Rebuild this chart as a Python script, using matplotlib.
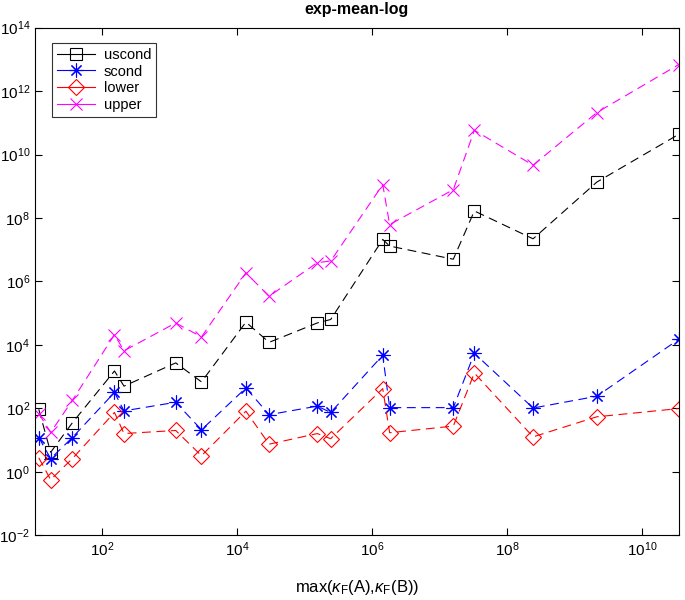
import matplotlib
matplotlib.use('Agg')
import matplotlib.pyplot as plt
from matplotlib.ticker import FixedLocator, NullLocator

plt.rcParams['font.family'] = ['Liberation Sans', 'DejaVu Sans']
plt.rcParams['mathtext.fontset'] = 'custom'
plt.rcParams['mathtext.rm'] = 'Liberation Sans'
plt.rcParams['mathtext.it'] = 'Liberation Sans:italic'

# max condition number on the x axis
kappa = [11.4, 17.1, 35.9, 151, 209, 1.22e3, 2.94e3, 1.34e4, 2.96e4,
         1.53e5, 2.42e5, 1.43e6, 1.81e6, 1.59e7, 3.26e7, 2.42e8, 2.13e9, 3.47e10]

uscond = [93, 4.1, 35, 1.5e3, 500, 2.7e3, 680, 5.2e4, 1.2e4,
          4.9e4, 6.3e4, 2.1e7, 1.3e7, 5.0e6, 1.66e8, 2.2e7, 1.35e9, 4.3e10]
scond = [12, 2.6, 12, 316, 83, 155, 21, 437, 63,
         117, 74, 4.7e3, 105, 105, 5.4e3, 102, 240, 1.48e4]
lower = [2.75, 0.56, 2.6, 74, 16, 20, 3.2, 81, 7.4,
         16, 11, 417, 17, 27.5, 1.29e3, 12.6, 54, 98]
upper = [68, 17.4, 178, 2.1e4, 6.5e3, 4.9e4, 1.78e4, 1.86e6, 3.4e5,
         3.9e6, 4.4e6, 1.12e9, 6.2e7, 7.8e8, 5.8e10, 4.6e9, 2.1e11, 6.8e12]

# matlab-like asterisk: 8 spokes
series = [('uscond', uscond, 'k', 's', 8),
          ('scond', scond, 'b', (8, 2, 0), 10),
          ('lower', lower, 'r', 'D', 8),
          ('upper', upper, '#ff00ff', 'x', 8)]

fig = plt.figure(figsize=(6.85, 6.0), dpi=100)
ax = fig.add_axes([0.051, 0.108, 0.940, 0.846])

for name, vals, col, mk, ms in series:
    ax.plot(kappa, vals, linestyle=(0, (8, 5)), color=col, linewidth=0.8,
            marker=mk, markersize=ms, markerfacecolor='none',
            markeredgecolor=col, markeredgewidth=0.8, label=name)

ax.set_xscale('log')
ax.set_yscale('log')
ax.set_xlim(10, 3.5e10)
ax.set_ylim(1e-2, 1e14)
ax.xaxis.set_major_locator(FixedLocator([1e2, 1e4, 1e6, 1e8, 1e10]))
ax.yaxis.set_major_locator(FixedLocator([10.0 ** k for k in range(-2, 15, 2)]))
ax.xaxis.set_minor_locator(NullLocator())
ax.yaxis.set_minor_locator(NullLocator())
ax.tick_params(direction='in', top=True, right=True, length=5, width=0.8,
               labelsize=11)
for sp in ax.spines.values():
    sp.set_linewidth(0.8)

ax.set_title('exp-mean-log', fontsize=11.5, fontweight='bold', pad=10)
ax.set_xlabel(r'max($\kappa_{\mathrm{F}}$(A),$\kappa_{\mathrm{F}}$(B))',
              fontsize=12, labelpad=14)

leg = ax.legend(loc='upper left', bbox_to_anchor=(0.015, 0.985), fontsize=10.5,
                fancybox=False, edgecolor='#333333', framealpha=1,
                handlelength=2.6, handletextpad=0.6, borderpad=0.35,
                labelspacing=0.2)
leg.get_frame().set_linewidth(0.8)
for h in leg.get_lines():
    h.set_linestyle('-')

fig.savefig('out.png', dpi=100)
